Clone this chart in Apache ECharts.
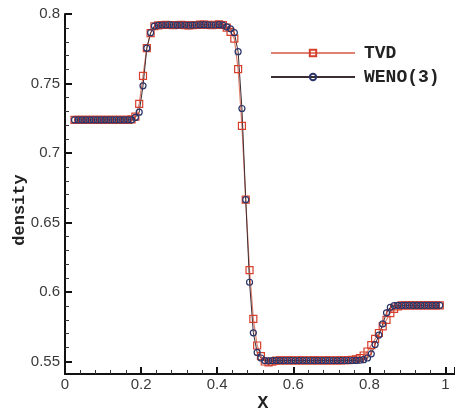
<!DOCTYPE html>
<html><head><meta charset="utf-8">
<script src="https://cdn.jsdelivr.net/npm/echarts@6/dist/echarts.min.js"></script>
<style>html,body{margin:0;padding:0;background:#fff}#c{width:455px;height:410px}</style>
</head><body><div id="c"></div>
<script>
const xValues = [0.025,0.035,0.045,0.055,0.065,0.075,0.085,0.095,0.105,0.115,0.125,0.135,0.145,0.155,0.165,
0.175,0.185,0.195,0.205,0.215,0.225,0.235,0.245,
0.255,0.265,0.275,0.285,0.295,0.305,0.315,0.325,0.335,0.345,0.355,0.365,0.375,0.385,0.395,0.405,0.415,
0.425,0.435,0.445,0.455,0.465,0.475,0.485,0.495,0.505,0.515,0.525,0.535,0.545,
0.555,0.565,0.575,0.585,0.595,0.605,0.615,0.625,0.635,0.645,0.655,0.665,0.675,0.685,0.695,0.705,0.715,0.725,0.735,0.745,0.755,0.765,0.775,
0.785,0.795,0.805,0.815,0.825,0.835,0.845,0.855,0.865,0.875,0.885,0.895,0.905,
0.915,0.925,0.935,0.945,0.955,0.965,0.975,0.985,0.995,1.005];

const tvd = [0.7238,0.7238,0.7238,0.7238,0.7238,0.7238,0.7238,0.7238,0.7238,0.7238,0.7238,0.7238,0.7238,0.7238,0.7238,
0.7242,0.7262,0.7353,0.7555,0.7754,0.7862,0.7912,0.7918,
0.7921,0.7922,0.7921,0.7920,0.7921,0.7922,0.7920,0.7918,0.7919,0.7921,0.7923,0.7924,0.7922,0.7920,0.7922,0.7925,0.7921,
0.7902,0.7872,0.7823,0.7603,0.7195,0.6664,0.6157,0.5807,0.5615,0.5539,0.5500,0.5494,0.5499,
0.5506,0.5508,0.5507,0.5508,0.5508,0.5507,0.5508,0.5508,0.5507,0.5508,0.5508,0.5508,0.5507,0.5508,0.5508,0.5507,0.5508,0.5508,0.5509,0.5510,0.5511,
0.5515,0.5525,0.5543,0.5572,0.5618,0.5662,0.5705,0.5752,0.5800,0.5848,0.5878,0.5897,0.5903,
0.5904,0.5904,0.5904,0.5904,0.5904,0.5904,0.5904,0.5904,0.5904,0.5904];

const weno = [0.7238,0.7238,0.7238,0.7238,0.7238,0.7238,0.7238,0.7238,0.7238,0.7238,0.7238,0.7238,0.7238,0.7238,0.7238,
0.7239,0.7256,0.7294,0.7483,0.7754,0.7865,0.7913,0.7919,
0.7921,0.7921,0.7922,0.7921,0.7920,0.7921,0.7921,0.7919,0.7920,0.7921,0.7922,0.7923,0.7922,0.7921,0.7921,0.7923,0.7920,
0.7908,0.7893,0.7866,0.7729,0.7320,0.6664,0.6070,0.5706,0.5565,0.5525,0.5507,0.5505,0.5506,
0.5507,0.5507,0.5507,0.5507,0.5507,0.5507,0.5507,0.5507,0.5507,0.5507,0.5507,0.5507,0.5507,0.5507,0.5507,0.5507,0.5507,0.5507,0.5507,0.5507,0.5507,
0.5508,0.5509,0.5513,0.5525,0.5555,0.5622,0.5690,0.5770,0.5850,0.5890,0.5902,0.5904,0.5904,
0.5904,0.5904,0.5904,0.5904,0.5904,0.5904,0.5904,0.5904,0.5904,0.5904];

const seriesNames = ['TVD', 'WENO(3)'];
const xAxisTitle = 'X';
const yAxisTitle = 'density';

const zip = ys => xValues.map((x, i) => [x, ys[i]]);

const chart = echarts.init(document.getElementById('c'), null, {renderer: 'canvas'});
const labelStyle = {fontFamily: 'Liberation Sans, Arial, sans-serif', fontSize: 15, color: '#3a3a3a'};
chart.setOption({
  animation: false,
  backgroundColor: '#fff',
  grid: {left: 65, right: 0, top: 14, bottom: 36, containLabel: false, outerBoundsMode: 'none'},
  legend: {
    orient: 'vertical', left: 265, top: 39,
    itemWidth: 84, itemHeight: 8, itemGap: 6,
    textStyle: {fontFamily: 'Liberation Mono, Courier New, monospace', fontWeight: 'bold', fontSize: 18, color: '#222', padding: [0,0,0,4]},
    data: seriesNames
  },
  xAxis: {
    type: 'value', min: 0, max: 1.025, interval: 0.2,
    name: xAxisTitle, nameLocation: 'middle', nameGap: 20, nameMoveOverlap: false,
    nameTextStyle: {fontFamily: 'Liberation Mono, Courier New, monospace', fontWeight: 'bold', fontSize: 18, color: '#222', padding: [0,0,0,6]},
    axisLine: {show: true, onZero: false, lineStyle: {color: '#111', width: 2}},
    axisTick: {show: true, inside: true, length: 7, lineStyle: {color: '#111', width: 2}},
    minorTick: {show: true, splitNumber: 5, length: 4, lineStyle: {color: '#333', width: 1}},
    axisLabel: Object.assign({margin: 3, showMaxLabel: false, formatter: v => (Math.abs(v*5 - Math.round(v*5)) < 1e-6 ? String(Math.round(v*10)/10) : '')}, labelStyle),
    splitLine: {show: false}
  },
  yAxis: {
    type: 'value', min: 0.541, max: 0.8, splitNumber: 5,
    name: yAxisTitle, nameLocation: 'middle', nameGap: 37, nameRotate: 90, nameMoveOverlap: false,
    nameTextStyle: {fontFamily: 'Liberation Mono, Courier New, monospace', fontWeight: 'bold', fontSize: 17, color: '#222', padding: [0, 32, 0, 0]},
    axisLine: {show: true, onZero: false, lineStyle: {color: '#111', width: 2}},
    axisTick: {show: true, inside: true, length: 7, lineStyle: {color: '#111', width: 2}},
    minorTick: {show: true, splitNumber: 5, length: 4, lineStyle: {color: '#333', width: 1}},
    axisLabel: Object.assign({margin: 5, showMinLabel: false, formatter: v => (Math.abs(v*20 - Math.round(v*20)) < 1e-6 ? String(Math.round(v*100)/100) : '')}, labelStyle),
    splitLine: {show: false}
  },
  series: [
    {
      name: seriesNames[0], type: 'line', data: zip(tvd),
      symbol: 'rect', symbolSize: 7, showAllSymbol: true,
      lineStyle: {color: '#e0806e', width: 1.2},
      itemStyle: {color: 'rgba(255,255,255,0)', borderColor: '#d6402c', borderWidth: 1.2}
    },
    {
      name: seriesNames[1], type: 'line', data: zip(weno),
      symbol: 'circle', symbolSize: 6, showAllSymbol: true,
      lineStyle: {color: '#3c2e34', width: 1},
      itemStyle: {color: 'rgba(255,255,255,0)', borderColor: '#2a3468', borderWidth: 1.2}
    }
  ]
});
</script></body></html>
